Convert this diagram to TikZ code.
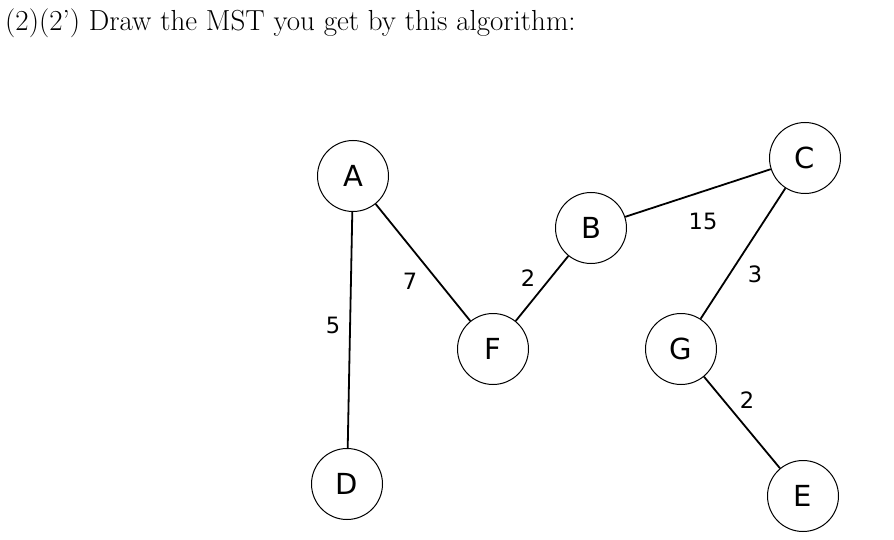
\documentclass[tikz,border=0pt]{standalone}
\usepackage{fontspec}
\newfontfamily\nodefont{DejaVu Sans}
\begin{document}
\begin{tikzpicture}[x=1pt,y=-1pt,
  vert/.style={circle,draw,line width=1pt,minimum size=71pt,inner sep=0pt,font=\nodefont\fontsize{29}{29}\selectfont},
  edge/.style={line width=1.8pt},
  wlab/.style={font=\nodefont\fontsize{22.5}{22.5}\selectfont,inner sep=0pt}]
\useasboundingbox (0,0) rectangle (894,540);
\node[anchor=base west,inner sep=0pt,font=\fontsize{29}{33}\selectfont] (title) at (5,31) {(2)(2’) Draw the MST you get by this algorithm:};
\node[vert] (A) at (353,176) {A};
\node[vert] (F) at (493,349) {F};
\node[vert] (B) at (591,228) {B};
\node[vert] (C) at (805,158) {C};
\node[vert] (G) at (681,349) {G};
\node[vert] (D) at (347,484) {D};
\node[vert] (E) at (803,496) {E};
\draw[edge] (A) -- (D);
\draw[edge] (A) -- (F);
\draw[edge] (F) -- (B);
\draw[edge] (B) -- (C);
\draw[edge] (C) -- (G);
\draw[edge] (G) -- (E);
\node[wlab] (w5) at (333,325) {5};
\node[wlab] (w7) at (410,281) {7};
\node[wlab] (w2a) at (528,278) {2};
\node[wlab] (w15) at (703,221) {15};
\node[wlab] (w3) at (755,274) {3};
\node[wlab] (w2b) at (747,400) {2};
\end{tikzpicture}
\end{document}
